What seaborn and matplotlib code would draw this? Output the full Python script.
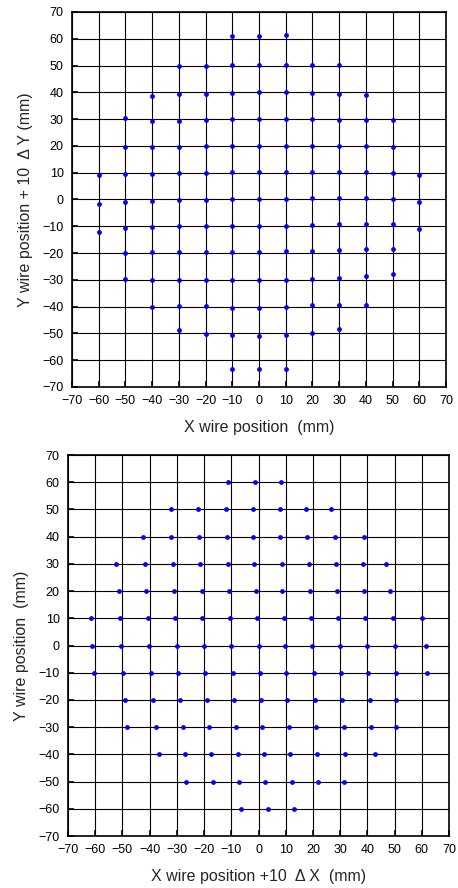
import matplotlib
matplotlib.use("Agg")
import matplotlib.pyplot as plt
import seaborn as sns
import pandas as pd

# ---------------- data ----------------
grid_rows = [60, 50, 40, 30, 20, 10, 0, -10, -20, -30, -40, -50, -60]
row_x_nominal = [
    [-10, 0, 10],
    [-30, -20, -10, 0, 10, 20, 30],
    [-40, -30, -20, -10, 0, 10, 20, 30, 40],
    [-50, -40, -30, -20, -10, 0, 10, 20, 30, 40, 50],
    [-50, -40, -30, -20, -10, 0, 10, 20, 30, 40, 50],
    [-60, -50, -40, -30, -20, -10, 0, 10, 20, 30, 40, 50, 60],
    [-60, -50, -40, -30, -20, -10, 0, 10, 20, 30, 40, 50, 60],
    [-60, -50, -40, -30, -20, -10, 0, 10, 20, 30, 40, 50, 60],
    [-50, -40, -30, -20, -10, 0, 10, 20, 30, 40, 50],
    [-50, -40, -30, -20, -10, 0, 10, 20, 30, 40, 50],
    [-40, -30, -20, -10, 0, 10, 20, 30, 40],
    [-30, -20, -10, 0, 10, 20, 30],
    [-10, 0, 10],
]

# Top panel: measured "Y + 10 dY" for each nominal point
top_y_measured = [
    [61.0, 61.0, 61.4],
    [50.0, 50.0, 50.3, 50.3, 50.3, 50.3, 50.3],
    [38.5, 39.25, 39.5, 39.9, 40.0, 40.0, 39.9, 39.5, 39.0],
    [30.25, 29.25, 29.4, 29.5, 30.0, 30.0, 30.0, 30.0, 29.75, 29.5, 29.5],
    [19.75, 19.6, 19.6, 19.9, 20.0, 20.0, 20.1, 20.1, 20.0, 20.0, 19.75],
    [9.25, 9.6, 9.6, 9.75, 9.9, 10.1, 10.1, 10.1, 10.25, 10.4, 10.1, 9.9, 9.0],
    [-1.75, -0.75, -0.5, -0.1, -0.1, 0.1, 0.25, 0.25, 0.4, 0.5, 0.4, 0.1, -1.0],
    [-12.1, -10.6, -10.25, -10.0, -9.9, -9.9, -9.75, -9.75, -9.5, -9.25, -9.25, -9.25, -10.9],
    [-20.1, -19.75, -19.6, -19.6, -19.6, -19.6, -19.4, -19.4, -19.0, -18.6, -18.4],
    [-29.6, -29.9, -29.9, -29.9, -30.0, -29.9, -29.9, -29.5, -29.25, -28.6, -27.75],
    [-40.0, -39.75, -39.9, -40.4, -40.4, -40.1, -39.5, -39.25, -39.25],
    [-48.75, -50.1, -50.75, -51.0, -50.6, -49.75, -48.5],
    [-63.1, -63.3, -63.2],
]

# Bottom panel: measured "X + 10 dX" for each nominal point
bottom_x_measured = [
    [-11.2, -1.2, 8.3],
    [-32.3, -22.1, -11.8, -2.0, 7.9, 17.4, 26.6],
    [-42.5, -32.1, -21.7, -11.6, -2.0, 7.9, 18.0, 28.0, 38.8],
    [-52.2, -41.6, -31.6, -21.5, -11.3, -1.5, 8.5, 18.4, 28.3, 38.3, 46.9],
    [-51.4, -41.3, -31.0, -20.9, -10.9, -1.0, 8.8, 18.8, 28.8, 38.6, 48.4],
    [-61.6, -50.9, -40.6, -30.6, -20.6, -10.5, -0.6, 9.4, 19.2, 29.2, 39.3, 49.3, 60.2],
    [-61.0, -50.4, -40.2, -30.1, -20.0, -10.0, 0.0, 9.6, 19.8, 29.8, 40.0, 50.2, 61.4],
    [-60.6, -49.7, -39.5, -29.4, -19.5, -9.5, 0.4, 10.2, 20.3, 30.2, 40.4, 50.7, 61.8],
    [-49.1, -38.8, -28.7, -18.9, -9.0, 0.9, 10.6, 20.7, 30.6, 40.9, 50.7],
    [-48.2, -37.8, -27.9, -18.2, -8.3, 1.3, 11.2, 21.2, 31.3, 41.3, 50.7],
    [-36.6, -26.9, -17.4, -7.7, 2.0, 11.6, 21.5, 31.8, 42.8],
    [-26.6, -16.8, -7.2, 2.5, 12.2, 21.8, 31.6],
    [-6.3, 3.4, 12.9],
]

ticks = list(range(-70, 71, 10))

top_xlabel = "X wire position  (mm)"
top_ylabel = "Y wire position + 10  Δ Y (mm)"
bottom_xlabel = "X wire position +10  Δ X  (mm)"
bottom_ylabel = "Y wire position  (mm)"

# ---------------- build tables ----------------
top_rows, bot_rows = [], []
for gy, xs, ys, bxs in zip(grid_rows, row_x_nominal, top_y_measured, bottom_x_measured):
    for x, y, bx in zip(xs, ys, bxs):
        top_rows.append({"x": x, "y": y})
        bot_rows.append({"x": bx, "y": gy})
top_df = pd.DataFrame(top_rows)
bot_df = pd.DataFrame(bot_rows)

# ---------------- plot ----------------
sns.set_style("white")
plt.rcParams["font.family"] = ["Liberation Sans", "DejaVu Sans"]
plt.rcParams["axes.unicode_minus"] = True

fig = plt.figure(figsize=(4.58, 8.88), dpi=100)
ax_top = fig.add_axes([72 / 458, 1 - 387 / 888, 374 / 458, 375 / 888])
ax_bot = fig.add_axes([68 / 458, 1 - 836 / 888, 381 / 458, 381 / 888])


def style(ax, xlabel, ylabel):
    ax.set_xlim(-70, 70)
    ax.set_ylim(-70, 70)
    ax.set_xticks(ticks)
    ax.set_yticks(ticks)
    ax.grid(True, color="black", linewidth=0.8)
    ax.set_axisbelow(True)
    for s in ax.spines.values():
        s.set_visible(True)
        s.set_color("black")
        s.set_linewidth(1.2)
    ax.tick_params(direction="in", length=4, width=1.2, labelsize=9,
                   colors="black", pad=6, left=True, bottom=True)
    ax.set_xlabel(xlabel, fontsize=11.5, labelpad=9)
    ax.set_ylabel(ylabel, fontsize=11.5, labelpad=7)


sns.scatterplot(data=top_df, x="x", y="y", ax=ax_top, color="#0000ff",
                s=12, linewidth=0, zorder=3)
sns.scatterplot(data=bot_df, x="x", y="y", ax=ax_bot, color="#0000ff",
                s=12, linewidth=0, zorder=3)
style(ax_top, top_xlabel, top_ylabel)
style(ax_bot, bottom_xlabel, bottom_ylabel)

fig.savefig("out.png", dpi=100)
